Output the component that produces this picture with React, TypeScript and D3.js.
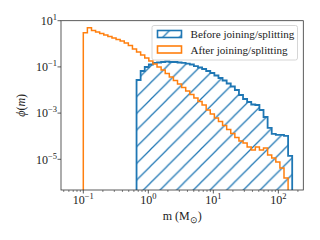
import * as d3 from 'd3'

// log-spaced bin edges shared by both histograms
const BIN_EDGES = [
  0.1, 0.1156, 0.1337, 0.1545, 0.1786, 0.2065, 0.2388, 0.2761, 0.3192, 0.369,
  0.4266, 0.4932, 0.5702, 0.6592, 0.7621, 0.881, 1.0186, 1.1776, 1.3614, 1.574,
  1.8197, 2.1038, 2.4322, 2.8119, 3.2509, 3.7584, 4.3451, 5.0234, 5.8076, 6.7143,
  7.7625, 8.9743, 10.375, 11.995, 13.868, 16.032, 18.535, 21.429, 24.774, 28.642,
  33.113, 38.282, 44.259, 51.168, 59.156, 68.391, 79.068, 91.411, 105.68, 122.18,
  141.25, 163.31,
]

// phi(m) before joining/splitting (zeros = empty bins)
const BEFORE = [
  0, 0, 0, 0, 0, 0, 0, 0, 0, 0, 0, 0, 0,
  0.0271, 0.0665, 0.0991, 0.127, 0.148, 0.155, 0.163, 0.171, 0.163, 0.163,
  0.155, 0.148, 0.14, 0.127, 0.109, 0.0942, 0.0811, 0.0665, 0.0545, 0.0425,
  0.0331, 0.0258, 0.0191, 0.0142, 0.01, 0.00608, 0.00408, 0.00303, 0.00236, 0.00224,
  0.00136, 6.78e-4, 2.31e-4, 1.27e-4, 1.15e-4, 1.15e-4, 1.03e-4, 1.4e-5,
]

// phi(m) after joining/splitting
const AFTER = [
  3.03, 4.98, 3.77, 3.24, 2.79, 2.4, 2.07, 1.78, 1.53, 1.32,
  1.08, 0.84, 0.6, 0.44, 0.33, 0.243, 0.18, 0.134, 0.099, 0.0734,
  0.0518, 0.0365, 0.0258, 0.0182, 0.0128, 0.00906, 0.00638, 0.00451, 0.00318, 0.00224,
  0.00136, 9.14e-4, 6.14e-4, 4.33e-4, 2.9e-4, 1.95e-4, 1.31e-4, 8.79e-5, 6.2e-5, 5.08e-5,
  3.41e-5, 2.53e-5, 3.41e-5, 2.53e-5, 3.08e-5, 1.53e-5, 1.14e-5, 7.64e-6, 4.2e-6, 1.55e-6,
]

const X_TICKS = [0.1, 1, 10, 100]
const X_TICK_EXP = ['−1', '0', '1', '2']
const Y_TICKS = [10, 0.1, 1e-3, 1e-5]
const Y_TICK_EXP = ['1', '−1', '−3', '−5']
const LEGEND_LABELS = ['Before joining/splitting', 'After joining/splitting']

const W = 320
const H = 240
const PLOT = { left: 61, right: 303.3, top: 20.7, bottom: 190 }
const BLUE = '#1f77b4'
const ORANGE = '#ff7f0e'
const FONT = '"Liberation Serif", "Times New Roman", serif'
const HATCH = 16.67

const x = d3.scaleLog().domain([0.0454, 242]).range([PLOT.left, PLOT.right])
const y = d3.scaleLog().domain([4.69e-7, 10]).range([PLOT.bottom, PLOT.top])

// histtype='step' outline: up from the baseline, across each bin, back down
function stepPoints(edges: number[], vals: number[]): [number, number][] {
  const first = vals.findIndex((v) => v > 0)
  let last = vals.length - 1
  while (vals[last] <= 0) last--
  const pts: [number, number][] = [[x(edges[first]), PLOT.bottom]]
  for (let i = first; i <= last; i++) {
    const yy = vals[i] > 0 ? y(vals[i]) : PLOT.bottom
    pts.push([x(edges[i]), yy], [x(edges[i + 1]), yy])
  }
  pts.push([x(edges[last + 1]), PLOT.bottom])
  return pts
}

function minorTicks(): number[] {
  const out: number[] = []
  for (let e = -2; e <= 2; e++) {
    for (let k = 2; k <= 9; k++) {
      const v = k * Math.pow(10, e)
      const [lo, hi] = x.domain()
      if (v >= lo && v <= hi) out.push(v)
    }
  }
  return out
}

export default function App() {
  const line = d3.line()
  const beforePts = stepPoints(BIN_EDGES, BEFORE)
  const afterPts = stepPoints(BIN_EDGES, AFTER)

  return (
    <svg
      width={W}
      height={H}
      style={{ position: 'absolute', left: 0, top: 0, background: '#fff' }}
      fontFamily={FONT}
    >
      <defs>
        <clipPath id="plot">
          <rect x={PLOT.left} y={PLOT.top} width={PLOT.right - PLOT.left} height={PLOT.bottom - PLOT.top} />
        </clipPath>
        <pattern id="hatch" patternUnits="userSpaceOnUse" width={HATCH} height={HATCH}>
          <path
            d={`M0,${HATCH} L${HATCH},0 M-2,2 L2,-2 M${HATCH - 2},${HATCH + 2} L${HATCH + 2},${HATCH - 2}`}
            stroke={BLUE}
            strokeWidth={1.25}
          />
        </pattern>
      </defs>

      <g clipPath="url(#plot)">
        <path d={line(beforePts) + 'Z'} fill="url(#hatch)" stroke="none" />
        <path d={line(beforePts) ?? ''} fill="none" stroke={BLUE} strokeWidth={1.8} />
        <path d={line(afterPts) ?? ''} fill="none" stroke={ORANGE} strokeWidth={1.5} />
      </g>

      {/* spines */}
      <rect
        x={PLOT.left}
        y={PLOT.top}
        width={PLOT.right - PLOT.left}
        height={PLOT.bottom - PLOT.top}
        fill="none"
        stroke="#333"
        strokeWidth={0.8}
      />

      {/* x axis */}
      {minorTicks().map((v) => (
        <line key={'mx' + v} x1={x(v)} x2={x(v)} y1={PLOT.bottom} y2={PLOT.bottom + 2} stroke="#333" strokeWidth={0.6} />
      ))}
      {X_TICKS.map((v, i) => (
        <g key={'x' + v}>
          <line x1={x(v)} x2={x(v)} y1={PLOT.bottom} y2={PLOT.bottom + 3.5} stroke="#333" strokeWidth={0.8} />
          <text x={x(v)} y={204} textAnchor="middle" fontSize={12} fill="#222">
            10<tspan fontSize={8.5} dy={-5}>{X_TICK_EXP[i]}</tspan>
          </text>
        </g>
      ))}

      {/* y axis */}
      {Y_TICKS.map((v, i) => (
        <g key={'y' + v}>
          <line x1={PLOT.left - 3.5} x2={PLOT.left} y1={y(v)} y2={y(v)} stroke="#333" strokeWidth={0.8} />
          <text x={57} y={y(v) + 4.3} textAnchor="end" fontSize={12} fill="#222">
            10<tspan fontSize={8.5} dy={-5}>{Y_TICK_EXP[i]}</tspan>
          </text>
        </g>
      ))}

      {/* axis labels */}
      <text x={(PLOT.left + PLOT.right) / 2} y={220} textAnchor="middle" fontSize={12} fill="#222">
        m (M<tspan fontSize={8.5} dy={2.5}>⊙</tspan>
        <tspan dy={-2.5}>)</tspan>
      </text>
      <text
        transform={`translate(25,${(PLOT.top + PLOT.bottom) / 2}) rotate(-90)`}
        textAnchor="middle"
        fontSize={12}
        fill="#222"
      >
        <tspan fontStyle="italic">ϕ</tspan>(<tspan fontStyle="italic">m</tspan>)
      </text>

      {/* legend */}
      <rect x={152} y={25.5} width={145.5} height={34.5} rx={2} fill="#fff" fillOpacity={0.8} stroke="#ccc" strokeWidth={0.8} />
      <rect x={157.5} y={30.5} width={24} height={7} fill="url(#hatch)" stroke={BLUE} strokeWidth={1.6} />
      <rect x={157.5} y={46} width={24} height={7} fill="none" stroke={ORANGE} strokeWidth={1.6} />
      {LEGEND_LABELS.map((t, i) => (
        <text key={t} x={190.5} y={37.8 + i * 15.7} fontSize={11.1} fill="#222">
          {t}
        </text>
      ))}
    </svg>
  )
}
